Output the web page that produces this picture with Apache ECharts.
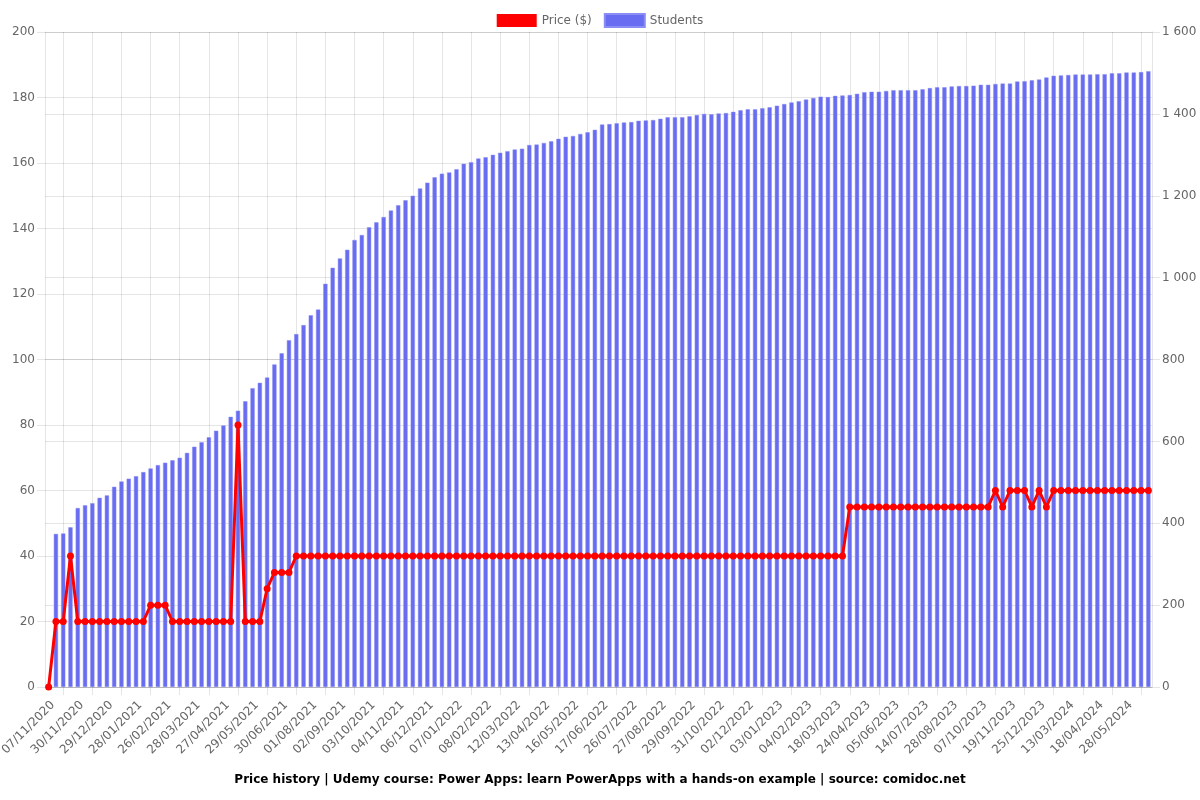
<!DOCTYPE html>
<html>
<head>
<meta charset="utf-8">
<script src="https://cdn.jsdelivr.net/npm/echarts@6/dist/echarts.min.js"></script>
<style>
html,body{margin:0;padding:0;background:#fff;}
#chart{width:1200px;height:800px;}
</style>
</head>
<body>
<div id="chart"></div>
<script>
// Tick labels shown on the x axis (every 4th category)
const tickLabels = ['07/11/2020','30/11/2020','29/12/2020','28/01/2021','26/02/2021','28/03/2021','27/04/2021','29/05/2021','30/06/2021','01/08/2021','02/09/2021','03/10/2021','04/11/2021','06/12/2021','07/01/2022','08/02/2022','12/03/2022','13/04/2022','16/05/2022','17/06/2022','26/07/2022','27/08/2022','29/09/2022','31/10/2022','02/12/2022','03/01/2023','04/02/2023','18/03/2023','24/04/2023','05/06/2023','14/07/2023','28/08/2023','07/10/2023','19/11/2023','25/12/2023','13/03/2024','18/04/2024','28/05/2024'];

// Price ($) per category
const price = [0,20,20,40,20,20,20,20,20,20,20,20,20,20,25,25,25,20,20,20,20,20,20,20,20,20,80,20,20,20,30,35,35,35,
40,40,40,40,40,40,40,40,40,40,40,40,40,40,40,40,40,40,40,40,40,40,40,40,40,40,40,40,40,40,40,40,40,40,40,40,40,40,40,40,40,40,
40,40,40,40,40,40,40,40,40,40,40,40,40,40,40,40,40,40,40,40,40,40,40,40,40,40,40,40,40,40,40,40,40,40,
55,55,55,55,55,55,55,55,55,55,55,55,55,55,55,55,55,55,55,55,
60,55,60,60,60,55,60,55,60,60,60,60,60,60,60,60,60,60,60,60,60,60];

// Students per category
const students = [0,374,375,390,437,444,449,462,468,489,502,509,515,525,534,542,548,554,560,572,587,598,610,626,639,660,675,698,730,743,
756,788,815,847,862,884,908,922,985,1024,1047,1068,1092,1104,1123,1135,1148,1164,1177,1189,1200,1218,1232,1245,1254,1257,1265,1278,1282,1291,
1294,1300,1305,1309,1313,1315,1324,1325,1329,1333,1339,1344,1346,1351,1355,1361,1374,1375,1377,1379,1380,1383,1384,1385,1388,1392,1392,1392,1394,1397,
1400,1399,1401,1402,1405,1409,1411,1411,1414,1416,1420,1424,1428,1431,1435,1439,1442,1441,1444,1445,1446,1449,1453,1454,1454,1456,1458,1458,1458,1458,
1460,1463,1465,1465,1467,1468,1468,1469,1471,1471,1473,1474,1474,1479,1480,1482,1484,1489,1493,1494,1495,1496,1496,1496,1497,1497,1499,1499,1501,1501,
1502,1504];

const N = students.length;
const categories = students.map((_, i) => (i % 4 === 0 && tickLabels[i / 4]) ? tickLabels[i / 4] : '');
// helper axis: half-category positions, used only to place vertical grid lines between shown labels
const halfSteps = Array.from({length: 2 * N + 1}, (_, k) => String(k));

const FONT = 'DejaVu Sans';
const GRID = 'rgba(0,0,0,0.1)';

const chart = echarts.init(document.getElementById('chart'), null, {renderer: 'canvas'});
chart.setOption({
  animation: false,
  backgroundColor: '#fff',
  textStyle: {fontFamily: FONT},
  title: {
    text: 'Price history | Udemy course: Power Apps: learn PowerApps with a hands-on example | source: comidoc.net',
    left: 'center', bottom: 9,
    textStyle: {fontFamily: FONT, fontSize: 12, fontWeight: 'bold', color: '#000'}
  },
  legend: {
    top: 8, left: 'center', icon: 'rect', itemWidth: 40, itemHeight: 13, itemGap: 12,
    textStyle: {fontFamily: FONT, fontSize: 12, color: '#666'},
    data: ['Price ($)', 'Students']
  },
  grid: {left: 45, right: 48, top: 32, bottom: 113, containLabel: false, outerBoundsMode: 'none'},
  xAxis: [{
    type: 'category', data: categories, boundaryGap: true,
    axisLine: {show: true, lineStyle: {color: GRID}},
    axisTick: {show: false},
    splitLine: {show: false},
    axisLabel: {interval: 3, rotate: 45, margin: 12, verticalAlign: 'top', fontFamily: FONT, fontSize: 12, color: '#666'}
  }, {
    type: 'category', data: halfSteps, boundaryGap: false, position: 'bottom',
    axisLine: {show: false},
    axisLabel: {show: false},
    axisTick: {show: true, length: 8, interval: (k) => k % 8 === 5, lineStyle: {color: GRID}},
    splitLine: {show: true, interval: (k) => k % 8 === 5, lineStyle: {color: GRID, width: 1}}
  }],
  yAxis: [{
    type: 'value', min: 0, max: 200, interval: 20, position: 'left',
    axisLine: {show: true, lineStyle: {color: GRID}},
    axisTick: {show: true, length: 8, lineStyle: {color: GRID}},
    splitLine: {show: true, lineStyle: {color: GRID}},
    axisLabel: {fontFamily: FONT, fontSize: 12, color: '#666', margin: 10}
  }, {
    type: 'value', min: 0, max: 1600, interval: 200, position: 'right',
    axisLine: {show: true, lineStyle: {color: GRID}},
    axisTick: {show: true, length: 8, lineStyle: {color: GRID}},
    splitLine: {show: true, lineStyle: {color: GRID}},
    axisLabel: {fontFamily: FONT, fontSize: 12, color: '#666', margin: 10,
      formatter: (v) => v >= 1000 ? Math.floor(v / 1000) + ' ' + String(v % 1000).padStart(3, '0') : String(v)}
  }],
  series: [{
    name: 'Price ($)', type: 'line', data: price, xAxisIndex: 0, yAxisIndex: 0, z: 5,
    symbol: 'circle', symbolSize: 7, showSymbol: true, showAllSymbol: true,
    lineStyle: {color: '#ff0000', width: 3},
    itemStyle: {color: '#ff0000'}
  }, {
    name: 'Students', type: 'bar', data: students, xAxisIndex: 0, yAxisIndex: 1, z: 2,
    barWidth: '58%',
    itemStyle: {color: '#686cf0', borderColor: '#8a8df3', borderWidth: 0.5}
  }]
});
</script>
</body>
</html>
